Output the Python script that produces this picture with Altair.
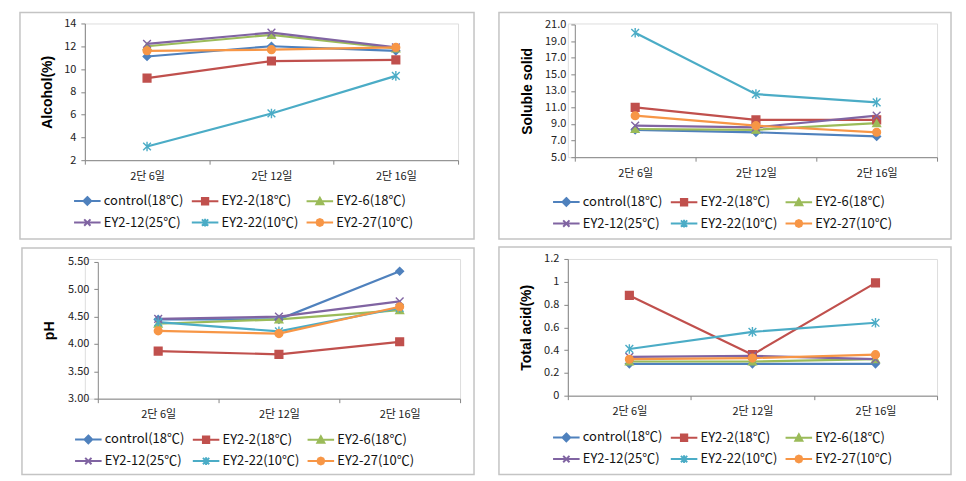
import altair as alt
import pandas as pd

days = ["2단 6일", "2단 12일", "2단 16일"]
series = ["control(18℃)", "EY2-2(18℃)", "EY2-6(18℃)", "EY2-12(25℃)", "EY2-22(10℃)", "EY2-27(10℃)"]
colors = ["#4F81BD", "#C0504D", "#9BBB59", "#8064A2", "#4BACC6", "#F79646"]

alcohol = {
    "control(18℃)": [11.1, 12.0, 11.6],
    "EY2-2(18℃)": [9.2, 10.7, 10.8],
    "EY2-6(18℃)": [12.0, 13.0, 11.8],
    "EY2-12(25℃)": [12.2, 13.2, 11.9],
    "EY2-22(10℃)": [3.2, 6.1, 9.4],
    "EY2-27(10℃)": [11.6, 11.7, 11.9],
}
soluble = {
    "control(18℃)": [8.3, 8.0, 7.5],
    "EY2-2(18℃)": [11.0, 9.5, 9.5],
    "EY2-6(18℃)": [8.4, 8.3, 9.1],
    "EY2-12(25℃)": [8.8, 8.6, 10.0],
    "EY2-22(10℃)": [20.0, 12.6, 11.6],
    "EY2-27(10℃)": [10.0, 8.8, 8.0],
}
ph = {
    "control(18℃)": [4.45, 4.45, 5.33],
    "EY2-2(18℃)": [3.87, 3.81, 4.04],
    "EY2-6(18℃)": [4.37, 4.45, 4.62],
    "EY2-12(25℃)": [4.46, 4.50, 4.78],
    "EY2-22(10℃)": [4.40, 4.23, 4.66],
    "EY2-27(10℃)": [4.24, 4.19, 4.68],
}
acid = {
    "control(18℃)": [0.28, 0.28, 0.28],
    "EY2-2(18℃)": [0.88, 0.36, 0.99],
    "EY2-6(18℃)": [0.30, 0.30, 0.32],
    "EY2-12(25℃)": [0.34, 0.35, 0.32],
    "EY2-22(10℃)": [0.41, 0.56, 0.64],
    "EY2-27(10℃)": [0.32, 0.33, 0.36],
}

alcohol_ticks = [2, 4, 6, 8, 10, 12, 14]
soluble_ticks = [5, 7, 9, 11, 13, 15, 17, 19, 21]
ph_ticks = [3.0, 3.5, 4.0, 4.5, 5.0, 5.5]
acid_ticks = [0, 0.2, 0.4, 0.6, 0.8, 1.0, 1.2]

# marker shapes on the plot
X_PATH = "M-1,-1L1,1M-1,1L1,-1"
AST_PATH = "M-1,-1L1,1M-1,1L1,-1M0,-1.25V1.25"
point_shapes = ["diamond", "square", "triangle-up", X_PATH, AST_PATH, "circle"]

# legend symbols: line + marker
L = "M-3.8,0H3.8"
legend_paths = [
    L + "M0,-1.1L1.1,0L0,1.1L-1.1,0Z",
    L + "M-0.9,-0.9H0.9V0.9H-0.9Z",
    L + "M0,-1.0L1.0,0.8H-1.0Z",
    L + "M-0.9,-0.9L0.9,0.9M-0.9,0.9L0.9,-0.9",
    L + "M-0.9,-0.9L0.9,0.9M-0.9,0.9L0.9,-0.9M0,-1.1V1.1",
    L + "M-1,0L-0.7,-0.7L0,-1L0.7,-0.7L1,0L0.7,0.7L0,1L-0.7,0.7Z",
]

FONT = "Noto Sans CJK KR"


def panel(values, ticks, fmt, title, w, h, ix, iy, title_x, frame, leg):
    """w, h: plot size; ix, iy: inset of the plot inside its cell."""
    W, H = w + ix, h + iy
    rows = []
    for s in series:
        for d, v in zip(days, values[s]):
            rows.append({"day": d, "value": v, "series": s})
    df = pd.DataFrame(rows)

    x = alt.X(
        "day:N",
        sort=days,
        scale=alt.Scale(type="band", domain=days, paddingInner=0, paddingOuter=0,
                        range=[ix, W]),
        axis=alt.Axis(
            title=None, tickBand="extent", labelAngle=0, labelFont=FONT,
            labelFontSize=11, labelColor="#222", labelPadding=6, tickSize=4,
            domainColor="#868686", tickColor="#868686", grid=False,
        ),
    )
    y = alt.Y(
        "value:Q",
        scale=alt.Scale(domain=[ticks[0], ticks[-1]], nice=False, zero=False,
                        range=[H, iy]),
        axis=alt.Axis(
            values=ticks, format=fmt, title=title, grid=False, offset=-ix,
            labelFont=FONT, labelFontSize=11, labelColor="#222", labelPadding=5,
            tickSize=4, domainColor="#868686", tickColor="#868686",
            titleFont="Liberation Sans", titleFontSize=14, titleFontWeight="bold",
            titleColor="#000", titleAngle=270, titleX=title_x, titleY=iy + h / 2,
            titleAlign="center", titleBaseline="middle",
        ),
    )
    legend = alt.Legend(
        title=None, orient="none", legendX=leg[0], legendY=leg[1],
        direction="horizontal", columns=3, columnPadding=4, rowPadding=5,
        symbolSize=49, symbolStrokeWidth=2, labelOffset=10, symbolOpacity=1,
        labelFont=FONT, labelFontSize=13, labelColor="#111",
    )
    col_scale = alt.Scale(domain=series, range=colors)
    fill = alt.Fill("series:N", sort=series, scale=col_scale, legend=legend)
    stroke = alt.Stroke("series:N", sort=series, scale=col_scale, legend=legend)
    base = alt.Chart(df)
    lines = base.mark_line(strokeWidth=2.2).encode(x=x, y=y, stroke=stroke)
    pts = []
    for s, shp in zip(series, point_shapes):
        pts.append(
            base.transform_filter(alt.datum.series == s)
            .mark_point(shape=shp, filled=True, size=60, strokeWidth=1.4, opacity=1)
            .encode(x=x, y=y, fill=fill, stroke=stroke)
        )
    leg_layer = base.mark_point(filled=True, opacity=0, size=1).encode(
        x=x, y=y, fill=fill, stroke=stroke,
        shape=alt.Shape("series:N", sort=series,
                        scale=alt.Scale(domain=series, range=legend_paths), legend=legend),
    )
    box = alt.Chart(alt.Data(values=[{"k": 0}])).mark_rect(
        filled=False, stroke="#c4c4c4", strokeWidth=1.5
    ).encode(
        x=alt.value(frame[0]), x2=alt.value(frame[1]),
        y=alt.value(frame[2]), y2=alt.value(frame[3]),
    )
    return alt.layer(box, lines, *pts, leg_layer).properties(width=W, height=H)


p1 = panel(alcohol, alcohol_ticks, "d", "Alcohol(%)", 374, 137, 0, 0, -37,
           (-65, 390, -11, 216), (-4, 171))
p2 = panel(soluble, soluble_ticks, ".1f", "Soluble solid", 363, 133, 7, 1, -47,
           (-69, 384, -11, 216), (-8, 172))
p3 = panel(ph, ph_ticks, ".2f", "pH", 363, 137, 13, 3, -48,
           (-63, 390, -11, 216), (-3, 174))
p4 = panel(acid, acid_ticks, "~g", "Total acid(%)", 370, 137, 0, 0, -41,
           (-69, 384, -12, 216), (-8, 172))

res_s = dict(shape="independent", stroke="independent", fill="independent")
chart = alt.concat(
    p1, p2, p3, p4, columns=2, spacing={"column": 108, "row": 96}
).properties(
    bounds="flush", align="all",
    padding={"left": 10, "top": 2, "right": 5, "bottom": 0},
).resolve_scale(**res_s).resolve_legend(**res_s).configure_view(
    strokeWidth=0
).configure(background="white")

chart.save("out.html", embed_options={"renderer": "svg", "actions": False})
